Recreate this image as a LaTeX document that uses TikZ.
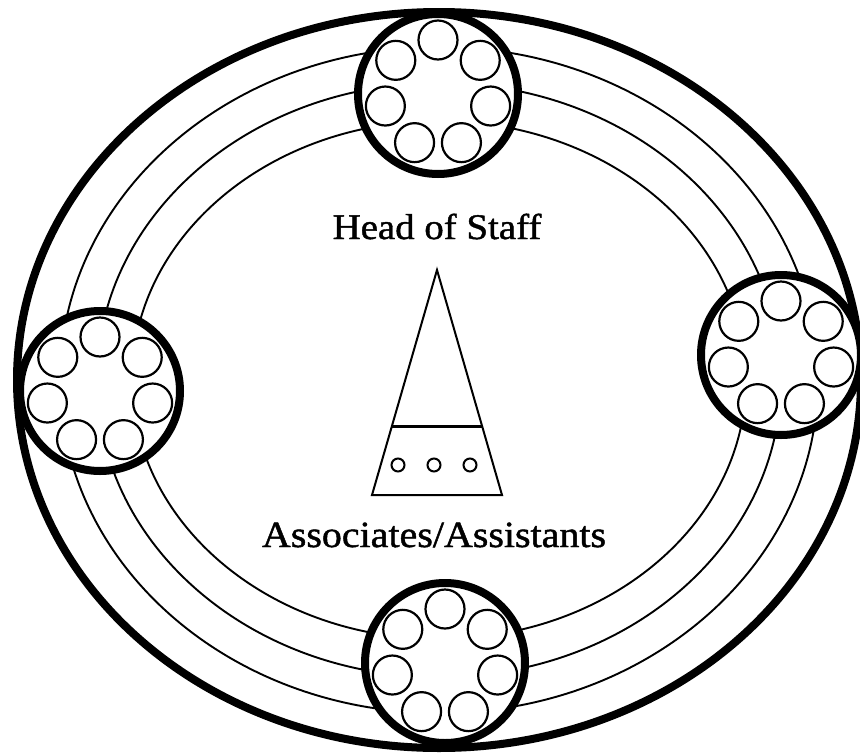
\documentclass[tikz,border=0pt]{standalone}
\usepackage{fontspec}
\setmainfont{Liberation Serif}
\newfontfamily\captionfont[FakeStretch=1.08, FakeBold=1.2]{Liberation Serif}
\usetikzlibrary{positioning}
\tikzset{
  orbit/.style={draw, line width=1.9pt},
  hub/.style={circle, draw, fill=white, line width=8pt, minimum size=160pt, inner sep=0pt},
  seat/.style={circle, draw, fill=white, line width=2.2pt, minimum size=39pt, inner sep=0pt},
  dot/.style={circle, draw, line width=2pt, minimum size=13pt, inner sep=0pt},
  caption/.style={inner sep=0pt, anchor=base}
}

\begin{document}
\begin{tikzpicture}[x=1pt, y=-1pt]
  \useasboundingbox (0,0) rectangle (860,753);
  \draw[line width=8pt] (439,380) ellipse[x radius=422pt, y radius=368pt];
  \draw[orbit] (439,380) ellipse[x radius=379pt, y radius=333pt];
  \draw[orbit] (439,380) ellipse[x radius=342pt, y radius=297pt];
  \draw[orbit] (439,380) ellipse[x radius=307pt, y radius=259pt];

  \node[hub] (teamN) at (438,94) {};
  \node[hub] (teamE) at (781,355) {};
  \node[hub] (teamS) at (445,663) {};
  \node[hub] (teamW) at (100,391) {};
  \foreach \t in {teamN,teamE,teamS,teamW}
    \foreach \i in {0,...,6}
      \node[seat] (\t-\i) at ([shift={(90+\i*360/7:54pt)}]\t) {};

  \coordinate (apex) at (437,270);
  \coordinate (baseL) at (372,495);
  \coordinate (baseR) at (502,495);
  \draw[line width=2pt, line join=miter] (apex) -- (baseL) -- (baseR) -- cycle;
  \coordinate (divL) at (392,426);
  \coordinate (divR) at (482,426);
  \draw[line width=3pt] (divL) -- (divR);
  \node[dot] (dot1) at (398,465) {};
  \node[dot] (dot2) at (434,465) {};
  \node[dot] (dot3) at (470,465) {};

  \node[caption, font=\captionfont\fontsize{36}{40}\selectfont] (head) at (437,239) {Head of Staff};
  \node[caption, font=\captionfont\fontsize{37}{40}\selectfont] (assoc) at (434,547) {Associates/Assistants};
\end{tikzpicture}
\end{document}
